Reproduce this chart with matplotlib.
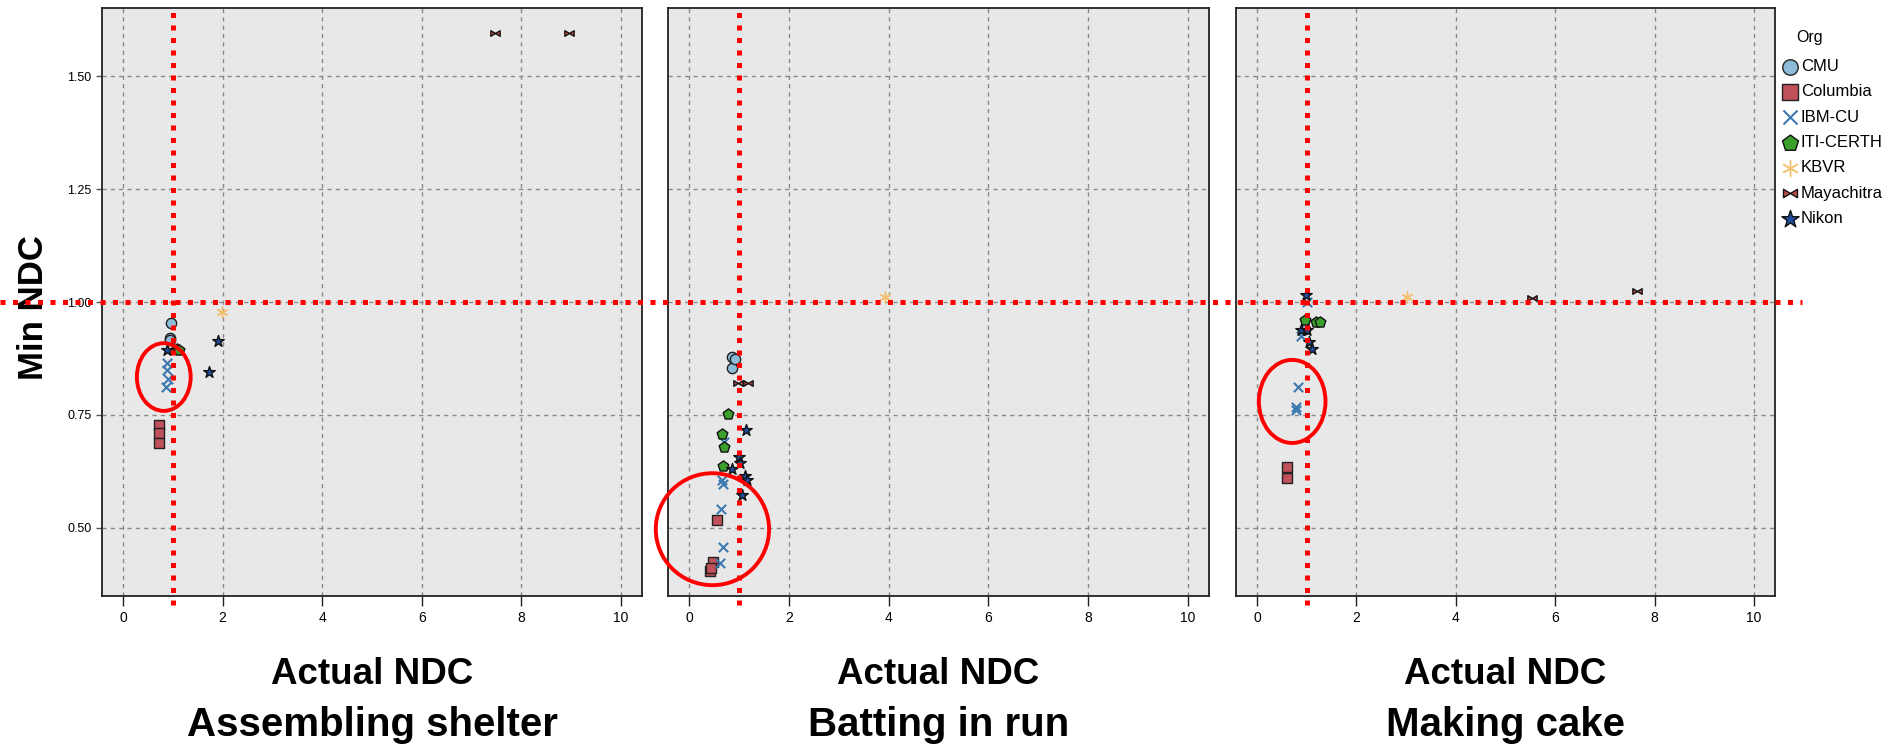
import numpy as np
import matplotlib
matplotlib.use("Agg")
import matplotlib.pyplot as plt
import matplotlib.transforms as mtransforms
from matplotlib.patches import Ellipse
from matplotlib.path import Path
from matplotlib.lines import Line2D

plt.rcParams['font.family'] = ['Liberation Sans', 'DejaVu Sans']

orgs = ["CMU", "Columbia", "IBM-CU", "ITI-CERTH", "KBVR", "Mayachitra", "Nikon"]
events = ["Assembling shelter", "Batting in run", "Making cake"]

# Assembling shelter
shelter_x = {
    "CMU": [0.96, 0.94, 0.95],
    "Columbia": [0.73, 0.73, 0.73],
    "IBM-CU": [0.88, 0.89, 0.90, 0.87],
    "ITI-CERTH": [1.08, 1.13],
    "KBVR": [1.98],
    "Mayachitra": [7.47, 8.96],
    "Nikon": [0.88, 1.91, 1.73],
}
shelter_y = {
    "CMU": [0.953, 0.920, 0.915],
    "Columbia": [0.728, 0.709, 0.687],
    "IBM-CU": [0.864, 0.849, 0.830, 0.812],
    "ITI-CERTH": [0.897, 0.894],
    "KBVR": [0.979],
    "Mayachitra": [1.597, 1.597],
    "Nikon": [0.894, 0.914, 0.846],
}

# Batting in run
batting_x = {
    "CMU": [0.86, 0.86, 0.92],
    "Columbia": [0.57, 0.49, 0.42, 0.45],
    "IBM-CU": [0.71, 0.68, 0.64, 0.68, 0.62, 0.66],
    "ITI-CERTH": [0.79, 0.66, 0.71, 0.68],
    "KBVR": [3.93],
    "Mayachitra": [0.99, 1.19],
    "Nikon": [1.14, 1.01, 1.02, 0.87, 1.12, 1.17, 1.06],
}
batting_y = {
    "CMU": [0.879, 0.853, 0.875],
    "Columbia": [0.517, 0.425, 0.405, 0.412],
    "IBM-CU": [0.690, 0.598, 0.541, 0.457, 0.423, 0.605],
    "ITI-CERTH": [0.752, 0.707, 0.680, 0.637],
    "KBVR": [1.011],
    "Mayachitra": [0.820, 0.820],
    "Nikon": [0.717, 0.657, 0.643, 0.630, 0.615, 0.605, 0.573],
}

# Making cake
cake_x = {
    "CMU": [0.97],
    "Columbia": [0.61, 0.61],
    "IBM-CU": [0.83, 0.78, 0.79, 1.00, 0.88],
    "ITI-CERTH": [0.96, 1.18, 1.26],
    "KBVR": [3.02],
    "Mayachitra": [5.54, 7.65],
    "Nikon": [0.98, 0.88, 1.01, 1.05, 1.10],
}
cake_y = {
    "CMU": [0.94],
    "Columbia": [0.635, 0.610],
    "IBM-CU": [0.812, 0.768, 0.761, 1.000, 0.925],
    "ITI-CERTH": [0.960, 0.957, 0.957],
    "KBVR": [1.012],
    "Mayachitra": [1.009, 1.025],
    "Nikon": [1.015, 0.938, 0.938, 0.912, 0.897],
}

# red circles: (x, y, width, height) in data units
circles = [(0.82, 0.834, 1.08, 0.15), (0.47, 0.497, 2.27, 0.248), (0.71, 0.78, 1.34, 0.184)]

bowtie = Path([(-1, -0.6), (-1, 0.6), (0, 0), (1, 0.6), (1, -0.6), (0, 0), (-1, -0.6)],
              [Path.MOVETO, Path.LINETO, Path.LINETO, Path.LINETO, Path.LINETO, Path.LINETO, Path.CLOSEPOLY])

style = {
    "CMU": dict(marker="o", facecolor="#8dbcd8", edgecolor="#222222", s=55, lw=1.0),
    "Columbia": dict(marker="s", facecolor="#c0505a", edgecolor="#222222", s=55, lw=1.0),
    "IBM-CU": dict(marker="x", color="#3b78b0", s=45, lw=1.5),
    "ITI-CERTH": dict(marker="p", facecolor="#3aa02c", edgecolor="#111111", s=65, lw=1.0),
    "KBVR": dict(marker=(6, 2, 0), color="#f5c06c", s=60, lw=1.0),
    "Mayachitra": dict(marker=bowtie, facecolor="#c0504d", edgecolor="#111111", s=45, lw=1.0),
    "Nikon": dict(marker="*", facecolor="#1f4ea0", edgecolor="#111111", s=75, lw=1.0),
}

xs = [shelter_x, batting_x, cake_x]
ys = [shelter_y, batting_y, cake_y]

fig = plt.figure(figsize=(18.95, 7.47), dpi=100)
lefts = [102, 668, 1236]
widths = [540, 541, 539]
axes = []
for i in range(3):
    ax = fig.add_axes([lefts[i] / 1895, 0.2021, widths[i] / 1895, 0.787])
    ax.set_facecolor("#e8e8e8")
    ax.set_xlim(-0.42, 10.42)
    ax.set_ylim(0.349, 1.651)
    ax.set_xticks([0, 2, 4, 6, 8, 10])
    ax.set_yticks([0.5, 0.75, 1.0, 1.25, 1.5])
    ax.grid(True, color="#8a8a8a", linestyle=(0, (3, 3)), lw=1.0)
    ax.set_axisbelow(True)
    for sp in ax.spines.values():
        sp.set_color("#222222")
        sp.set_linewidth(1.3)
    ax.tick_params(axis="x", labelsize=10, length=7, width=1, color="#222222", pad=4)
    if i == 0:
        ax.set_yticklabels(["0.50", "0.75", "1.00", "1.25", "1.50"])
        ax.tick_params(axis="y", labelsize=9, length=4, width=1, color="#555555")
    else:
        ax.tick_params(axis="y", left=False, labelleft=False)

    for org in orgs:
        ax.scatter(xs[i][org], ys[i][org], zorder=3, **style[org])

    cx, cy, w, h = circles[i]
    ax.add_patch(Ellipse((cx, cy), w, h, fill=False, edgecolor="#ff0000", lw=2.8, zorder=5, clip_on=False))

    vtrans = mtransforms.blended_transform_factory(ax.transData, ax.transAxes)
    ax.add_line(Line2D([1, 1], [-0.015, 1.0], transform=vtrans, color="#ff0000", lw=3.6,
                       linestyle=(0, (1, 1.5)), clip_on=False, zorder=6))
    axes.append(ax)

    cxf = (lefts[i] + widths[i] / 2) / 1895
    fig.text(cxf, 0.097, "Actual NDC", ha="center", va="center", fontsize=26.5, fontweight="bold")
    fig.text(cxf, 0.030, events[i], ha="center", va="center", fontsize=29, fontweight="bold")

htrans = mtransforms.blended_transform_factory(fig.transFigure, axes[0].transData)
fig.add_artist(Line2D([0.0, 0.951], [1.0, 1.0], transform=htrans, color="#ff0000", lw=3.6,
                      linestyle=(0, (1, 1.5)), zorder=6))

fig.text(0.0175, 0.588, "Min NDC", rotation=90, ha="center", va="center", fontsize=25, fontweight="bold")

handles = []
for org in orgs:
    h = plt.scatter([], [], **style[org])
    handles.append(h)
fig.text(0.9547, 0.950, "Org", ha="center", va="center", fontsize=11.5)
leg = fig.legend(handles, orgs, loc="upper left", bbox_to_anchor=(0.931, 0.941),
                 frameon=False, fontsize=12, handletextpad=0.0,
                 labelspacing=0.62, handlelength=1.3, scatterpoints=1, markerscale=1.5)

fig.savefig("out.png", dpi=100)
